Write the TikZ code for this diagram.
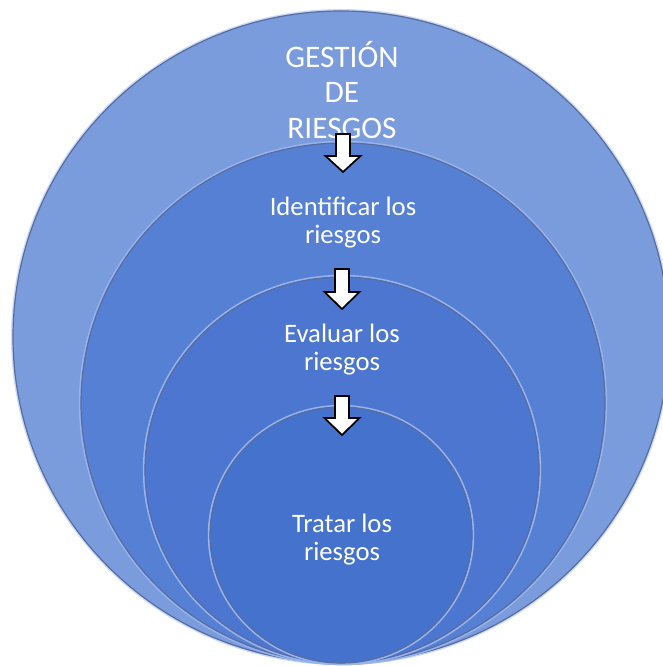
\documentclass[tikz,border=0pt]{standalone}
\usepackage{fontspec}
\setmainfont{Carlito}
\usetikzlibrary{shapes.geometric}
\definecolor{ringA}{RGB}{122,155,220}
\definecolor{ringB}{RGB}{86,128,212}
\definecolor{ringC}{RGB}{76,118,208}
\definecolor{ringD}{RGB}{68,114,204}
\definecolor{rimcol}{RGB}{90,108,158}
\definecolor{glowcol}{RGB}{150,180,240}
\tikzset{
  ring/.style={ellipse, inner sep=0pt, draw=rimcol, line width=0.9pt},
  glow/.style={draw=glowcol, line width=1.4pt},
  lbl/.style={text=white, align=center, inner sep=0pt},
  blockarrow/.style={fill=white, draw=black, line width=1.3pt, line join=miter},
}
\begin{document}
\begin{tikzpicture}[x=0.75pt,y=-0.75pt]
\useasboundingbox (0,0) rectangle (662,666);
% outer glow
\fill[glowcol!50] (341,337) ellipse [x radius=247.5pt, y radius=246pt];
\node[ring, fill=ringA, minimum width=492pt, minimum height=489pt] (c1) at (341,337) {};
\draw[glow] (343,403) ellipse [x radius=197.4pt, y radius=195.9pt];
\node[ring, fill=ringB, minimum width=393pt, minimum height=390pt] (c2) at (343,403) {};
\draw[glow] (342,470) ellipse [x radius=148.7pt, y radius=145.7pt];
\node[ring, fill=ringC, minimum width=295.5pt, minimum height=289.5pt] (c3) at (342,470) {};
\draw[glow] (341,535) ellipse [x radius=99.2pt, y radius=96.9pt];
\node[ring, fill=ringD, minimum width=196.5pt, minimum height=192pt] (c4) at (341,535) {};
% texts
\node[lbl, font=\fontsize{23.5pt}{26.3pt}\selectfont] (t1) at (342,90) {GESTIÓN\\DE\\RIESGOS};
\node[lbl, font=\fontsize{20pt}{21pt}\selectfont] (t2) at (343,223) {Identificar los\\riesgos};
\node[lbl, font=\fontsize{20pt}{21pt}\selectfont] (t3) at (342,350) {Evaluar los\\riesgos};
\node[lbl, font=\fontsize{20pt}{21pt}\selectfont] (t4) at (342,540) {Tratar los\\riesgos};
% block arrows
\draw[blockarrow] (336,134) -- (350,134) -- (350,156) -- (360.5,156) -- (343,172) -- (325.5,156) -- (336,156) -- cycle;
\draw[blockarrow] (335,269) -- (349,269) -- (349,292) -- (359.5,292) -- (342,309) -- (324.5,292) -- (335,292) -- cycle;
\draw[blockarrow] (335,396) -- (349,396) -- (349,418) -- (359.5,418) -- (342,435) -- (324.5,418) -- (335,418) -- cycle;
\end{tikzpicture}
\end{document}
